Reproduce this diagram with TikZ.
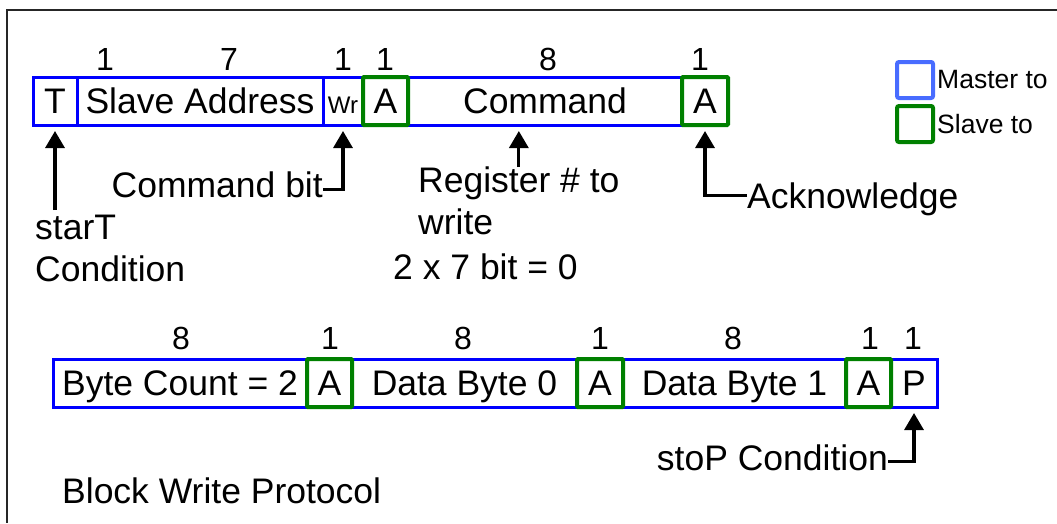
\documentclass[tikz,border=0pt]{standalone}
\usepackage{fontspec}
\setmainfont{Liberation Sans}
\usepackage{tikz}
\usetikzlibrary{positioning,arrows.meta}
\definecolor{mblue}{RGB}{0,0,255}
\definecolor{sgreen}{RGB}{0,128,0}
\definecolor{lblue}{RGB}{72,108,255}
\newcommand{\fieldfont}{\fontsize{35.5}{42}\selectfont}
\newcommand{\bitfont}{\fontsize{32}{38}\selectfont}
\newcommand{\wrfont}{\fontsize{24}{28}\selectfont}
\newcommand{\keyfont}{\fontsize{26.5}{30}\selectfont}
\tikzstyle{field} = [draw=mblue, line width=3pt, minimum height=48pt, inner sep=0pt, outer sep=0pt, text height=25pt, text depth=0pt, font=\fieldfont]
\tikzstyle{ackfield} = [field, draw=sgreen, line width=4pt, rounded corners=1pt]
\tikzstyle{bits} = [font=\bitfont, inner sep=0pt]
\tikzstyle{note} = [font=\fieldfont, inner sep=0pt, align=left]
\tikzstyle{pointer} = [line width=3.2pt, shorten >=6pt, -{Triangle[width=19pt,length=17pt]}]
\tikzstyle{keybox} = [draw, line width=4pt, rounded corners=2pt, minimum size=36pt, inner sep=0pt]

\begin{document}
\begin{tikzpicture}[x=1pt, y=-1pt]
				\useasboundingbox (0,0) rectangle (1057,523);
				\draw[line width=2pt, black!85] (1057,10) -- (7,10) -- (7,523);
				% first frame: address and command
				\node[field, minimum width=44pt, anchor=west] (t) at (33,101) {T};
				\node[field, minimum width=246pt, right=0pt of t] (addr) {Slave Address};
				\node[field, minimum width=40pt, right=0pt of addr, font=\wrfont] (wr) {Wr};
				\node[field, minimum width=274pt, right=45pt of wr] (cmd) {Command};
				\node[ackfield, minimum width=45pt, right=0pt of wr] (a1) {A};
				\node[ackfield, minimum width=46pt, right=0pt of cmd] (a2) {A};
				\node[bits] (n1) at (105,59) {1};
				\node[bits] (n2) at (229,59) {7};
				\node[bits] (n3) at (343,59) {1};
				\node[bits] (n4) at (385,59) {1};
				\node[bits] (n5) at (548,59) {8};
				\node[bits] (n6) at (700,59) {1};
				% legend
				\node[keybox, draw=lblue] (mkey) at (915,80) {};
				\node[keybox, draw=sgreen] (skey) at (915,124) {};
				\node[font=\keyfont, inner sep=1pt, right=1pt of mkey] (mtxt) {Master to};
				\node[font=\keyfont, inner sep=1pt, right=1pt of skey] (stxt) {Slave to};
				% notes under the first frame
				\node[note, anchor=north west] (startlbl) at (35,215) {starT\\Condition};
				\node[note, anchor=base east] (bitlbl) at (323,197) {Command bit};
				\node[note, anchor=north west] (reglbl) at (418,167) {Register \# to\\write};
				\node[note, anchor=base west] (zerolbl) at (393,279) {2 x 7 bit = 0};
				\node[note, anchor=base west] (acklbl) at (747,208) {Acknowledge};
				\draw[pointer] ([yshift=5pt]t.south |- startlbl.north) -- (t.south);
				\draw[pointer] ([yshift=-5pt]bitlbl.east) -| (wr.south);
				\draw[pointer] (reglbl.north) -- (reglbl.north |- cmd.south);
				\draw[pointer] ([yshift=3pt]acklbl.west) -| (a2.south);
				% second frame: data bytes
				\node[field, minimum width=254pt, anchor=west] (count) at (53,383) {Byte Count = 2};
				\node[field, minimum width=225pt, right=45pt of count] (data0) {Data Byte 0};
				\node[field, minimum width=223pt, right=46pt of data0] (data1) {Data Byte 1};
				\node[field, minimum width=46pt, right=45pt of data1] (p) {P};
				\node[ackfield, minimum width=45pt, right=0pt of count] (a3) {A};
				\node[ackfield, minimum width=46pt, right=0pt of data0] (a4) {A};
				\node[ackfield, minimum width=45pt, right=0pt of data1] (a5) {A};
				\node[bits] (m1) at (181,338) {8};
				\node[bits] (m2) at (330,338) {1};
				\node[bits] (m3) at (463,338) {8};
				\node[bits] (m4) at (600,338) {1};
				\node[bits] (m5) at (733,338) {8};
				\node[bits] (m6) at (870,338) {1};
				\node[bits] (m7) at (913,338) {1};
				\node[note, anchor=base east] (stoplbl) at (888,470) {stoP Condition};
				\draw[pointer] ([yshift=-4pt]stoplbl.east) -| (p.south);
				\node[note, anchor=base west] (title) at (62,503) {Block Write Protocol};
\end{tikzpicture}
\end{document}
